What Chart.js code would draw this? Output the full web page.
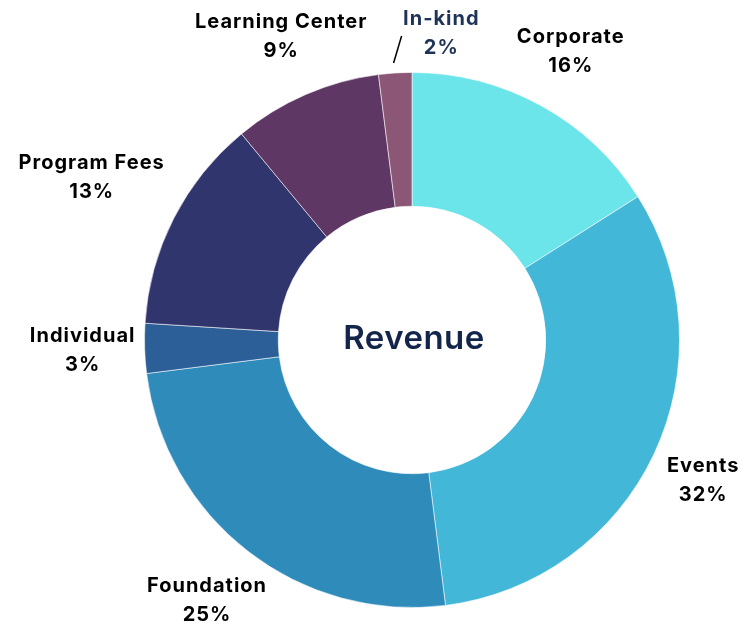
<!DOCTYPE html>
<html>
<head>
    <title>Revenue</title>
    <script src="https://cdn.jsdelivr.net/npm/chart.js"></script>
    <style>
        html, body { margin: 0; padding: 0; background: #fff; }
        #wrap { width: 743px; height: 629px; }
    </style>
</head>
<body>
    <div id="wrap"><canvas id="chart"></canvas></div>

    <script>
        // revenue shares, clockwise from the top
        var categories = ["Corporate", "Events", "Foundation", "Individual", "Program Fees", "Learning Center", "In-kind"];
        var shares = [16, 32, 25, 3, 13, 9, 2];
        var colors = ["#6BE5E9", "#42B7D7", "#2E8BBA", "#2C5F98", "#31356D", "#5E3765", "#8C5677"];

        var font = "Inter, 'Open Sans', sans-serif";

        // small nudges so labels sit where the original has them
        var labelTweaks = {
            "Events": { dr: 0, dx: -7, dy: 0 },
            "Foundation": { dr: 0, dx: -3, dy: 0 },
            "Program Fees": { dr: 30, dx: 0, dy: 0 },
            "Learning Center": { dr: 0, dx: 0, dy: -2 },
            "In-kind": { dr: 0, dx: 50, dy: 22, leader: true, color: "#1F3358" }
        };

        var labelPlugin = {
            id: "outsideLabels",
            afterDraw: function (chart) {
                var ctx = chart.ctx;
                var arcs = chart.getDatasetMeta(0).data;
                ctx.save();
                ctx.textAlign = "center";
                ctx.textBaseline = "middle";
                ctx.letterSpacing = "1px";
                arcs.forEach(function (arc, i) {
                    var name = categories[i];
                    var t = labelTweaks[name] || { dr: 0, dx: 0, dy: 0 };
                    var mid = (arc.startAngle + arc.endAngle) / 2;
                    var r = arc.outerRadius + 62 + t.dr;
                    var lx = arc.x + Math.cos(mid) * r + t.dx;
                    var ly = arc.y + Math.sin(mid) * r + t.dy;
                    ctx.fillStyle = t.color || "#000";
                    ctx.font = "700 20px " + font;
                    ctx.fillText(name, lx, ly - 14);
                    ctx.fillText(shares[i] + "%", lx, ly + 15);
                    if (t.leader) {
                        var r0 = arc.outerRadius + 10;
                        var x0 = arc.x + Math.cos(mid) * r0 - 1;
                        var y0 = arc.y + Math.sin(mid) * r0;
                        ctx.strokeStyle = "#000";
                        ctx.lineWidth = 1.5;
                        ctx.beginPath();
                        ctx.moveTo(x0, y0);
                        ctx.lineTo(x0 + 8, y0 - 27);
                        ctx.stroke();
                    }
                });
                // centre title
                var a = arcs[0];
                ctx.fillStyle = "#13254A";
                ctx.font = "600 33px " + font;
                ctx.letterSpacing = "0.5px";
                ctx.fillText("Revenue", a.x + 2, a.y - 1);
                ctx.restore();
            }
        };

        var ctx = document.getElementById('chart').getContext('2d');
        new Chart(ctx, {
            type: 'doughnut',
            data: {
                labels: categories,
                datasets: [{
                    data: shares,
                    backgroundColor: colors,
                    borderColor: "rgba(255,255,255,0.55)",
                    borderWidth: 1
                }]
            },
            options: {
                responsive: true,
                maintainAspectRatio: false,
                animation: false,
                cutout: "50%",
                layout: { padding: { left: 144, right: 63, top: 72, bottom: 21 } },
                plugins: {
                    legend: { display: false },
                    tooltip: { enabled: false }
                }
            },
            plugins: [labelPlugin]
        });
    </script>
</body>
</html>
